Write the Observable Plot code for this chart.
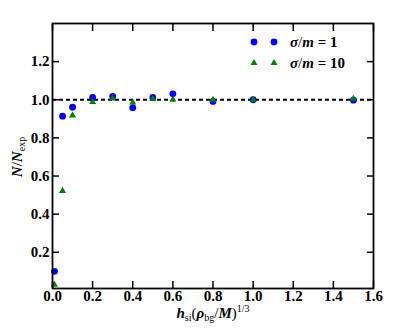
<!DOCTYPE html>
<html><head><meta charset="utf-8">
<script src="https://cdn.jsdelivr.net/npm/d3@7"></script>
<script src="https://cdn.jsdelivr.net/npm/@observablehq/plot@0.6"></script>
<style>
body{margin:0;background:#fff}
#c{position:relative;width:415px;height:333px}
#c svg, #c svg text{font-family:"Liberation Serif","DejaVu Serif",serif}
</style>
</head><body><div id="c"></div>
<script>
const xValues = [0.01, 0.05, 0.1, 0.2, 0.3, 0.4, 0.5, 0.6, 0.8, 1.0, 1.5];
const sigma1  = [0.10, 0.914, 0.961, 1.012, 1.017, 0.958, 1.012, 1.031, 0.991, 1.0, 0.998];
const sigma10 = [0.03, 0.522, 0.918, 0.988, 1.007, 0.986, 1.004, 1.0, 1.0, 1.0, 1.005];
const xTicks = [0, 0.2, 0.4, 0.6, 0.8, 1.0, 1.2, 1.4, 1.6];
const yTicks = [0.2, 0.4, 0.6, 0.8, 1.0, 1.2];
const legendLabels = ["σ/m = 1", "σ/m = 10"];

const d1 = xValues.map((x, i) => ({x, y: sigma1[i]}));
const d10 = xValues.map((x, i) => ({x, y: sigma10[i]}));

const fmt = d => d.toFixed(1);
const FONT = "Liberation Serif";
const plot = Plot.plot({
  width: 415, height: 333,
  marginLeft: 52, marginRight: 42, marginTop: 23, marginBottom: 45,
  style: {fontSize: "15px", fontFamily: FONT, color: "#000", background: "#fff"},
  x: {domain: [0, 1.6]},
  y: {domain: [0.01, 1.4]},
  marks: [
    Plot.ruleY([1], {stroke: "#000", strokeWidth: 2, strokeDasharray: "4,3"}),
    Plot.dot(d1, {x: "x", y: "y", r: 3.4, fill: "#0000ff", symbol: "circle"}),
    Plot.dot(d10, {x: "x", y: "y", r: 2.6, fill: "#007f00", symbol: "triangle"}),
    Plot.axisX(xTicks, {anchor: "bottom", tickSize: 0, tickPadding: 2, tickFormat: fmt, label: null,
      fontSize: 15, fontWeight: "bold", fontFamily: FONT}),
    Plot.axisX(xTicks, {anchor: "bottom", tickSize: -7, text: null, label: null, strokeWidth: 1.5}),
    Plot.axisX(xTicks, {anchor: "top", tickSize: -7, text: null, label: null, strokeWidth: 1.5}),
    Plot.axisY(yTicks, {anchor: "left", tickSize: 0, tickPadding: 3, tickFormat: fmt, label: null,
      fontSize: 15, fontWeight: "bold", fontFamily: FONT}),
    Plot.axisY(yTicks, {anchor: "left", tickSize: -7, text: null, label: null, strokeWidth: 1.5}),
    Plot.axisY(yTicks, {anchor: "right", tickSize: -7, text: null, label: null, strokeWidth: 1.5}),
    Plot.frame({stroke: "#000", strokeWidth: 1.8})
  ]
});
document.getElementById("c").appendChild(plot);

const svg = d3.select(plot);
// x label
const xl = svg.append("text").attr("x", 213).attr("y", 318).attr("text-anchor", "middle")
  .attr("font-size", 15).attr("font-family", FONT);
xl.append("tspan").attr("font-style", "italic").attr("font-weight", "bold").text("h");
xl.append("tspan").attr("font-size", 10).attr("dy", 3).text("si");
xl.append("tspan").attr("dy", -3).text("(");
xl.append("tspan").attr("font-style", "italic").attr("font-weight", "bold").text("ρ");
xl.append("tspan").attr("font-size", 10).attr("dy", 3).text("bg");
xl.append("tspan").attr("dy", -3).text("/");
xl.append("tspan").attr("font-style", "italic").attr("font-weight", "bold").text("M");
xl.append("tspan").text(")");
xl.append("tspan").attr("font-size", 10).attr("dy", -6).text("1/3");

// y label
const yl = svg.append("text").attr("transform", "translate(22,157) rotate(-90)").attr("text-anchor", "middle")
  .attr("font-size", 15).attr("font-family", FONT);
yl.append("tspan").attr("font-style", "italic").attr("font-weight", "bold").text("N");
yl.append("tspan").text("/");
yl.append("tspan").attr("font-style", "italic").attr("font-weight", "bold").text("N");
yl.append("tspan").attr("font-size", 10).attr("dy", 3).text("exp");

// legend
const lg = svg.append("g").attr("font-size", 15).attr("font-family", FONT).attr("text-anchor", "start");
const sym = [d3.symbol(d3.symbolCircle, Math.PI * 3.4 * 3.4), d3.symbol(d3.symbolTriangle, Math.PI * 2.6 * 2.6)];
const cols = ["#0000ff", "#007f00"];
legendLabels.forEach((lab, i) => {
  const y = 42 + i * 21;
  [254, 274].forEach(x => lg.append("path").attr("d", sym[i]()).attr("transform", `translate(${x},${y})`).attr("fill", cols[i]));
  const t = lg.append("text").attr("x", 290).attr("y", y + 5).attr("text-anchor", "start");
  const parts = lab.split(" = ");
  const [a, b] = parts[0].split("/");
  t.append("tspan").attr("font-style", "italic").attr("font-weight", "bold").text(a);
  t.append("tspan").text("/");
  t.append("tspan").attr("font-style", "italic").attr("font-weight", "bold").text(b);
  t.append("tspan").attr("font-weight", "bold").text(" = " + parts[1]);
});
</script>
</body></html>
